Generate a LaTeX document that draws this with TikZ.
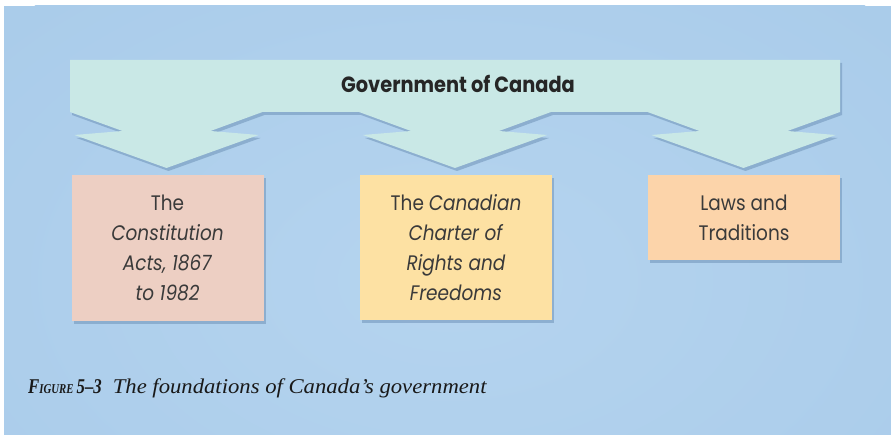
\documentclass[tikz,border=0pt]{standalone}
\usepackage{fontspec}
\usetikzlibrary{shadows}
\newfontfamily\geofont[FakeStretch=0.88]{Poppins}
\newfontfamily\capfont[FakeStretch=1.08]{Liberation Serif}
\newfontfamily\capnarrow[FakeStretch=0.8]{Liberation Serif}
\definecolor{skyblue}{HTML}{AACCEA}
\definecolor{skylight}{HTML}{B5D4EF}
\definecolor{bannerfill}{HTML}{C9E8E6}
\definecolor{pinkbox}{HTML}{EDCFC3}
\definecolor{yellowbox}{HTML}{FDE1A3}
\definecolor{peachbox}{HTML}{FCD4AA}
\definecolor{inkgrey}{HTML}{3A3A3A}
\definecolor{shadowblue}{HTML}{6F93B8}
\tikzset{
  softshadow/.style={drop shadow={shadow xshift=2pt, shadow yshift=-3pt, fill=shadowblue, opacity=0.55}},
  foundation/.style={rectangle, softshadow, minimum width=192pt, inner sep=0pt, align=center,
    text=inkgrey, font=\geofont\fontsize{21}{30}\selectfont},
}
\begin{document}
\begin{tikzpicture}[x=1pt,y=-1pt]
  % page and sky-blue backdrop
  \fill[white] (0,0) rectangle (891,435);
  \fill[skyblue] (4,6) rectangle (891,435);
  \begin{scope}
    \clip (4,6) rectangle (891,435);
    \shade[inner color=skylight, outer color=skyblue] (450,280) ellipse (600pt and 380pt);
  \end{scope}
  \useasboundingbox (0,0) rectangle (891,435);

  % banner with three downward arrowheads
  \def\ca{166.5}\def\cb{455}\def\cc{743.5}
  \filldraw[fill=bannerfill, draw=none, softshadow]
    (70,60) -- (840,60) -- (840,112)
    -- (\cc+44,131) -- (\cc+92,135) -- (\cc,168) -- (\cc-92,135) -- (\cc-44,131) -- (\cc-96,112)
    -- (\cb+96,112)
    -- (\cb+44,131) -- (\cb+92,135) -- (\cb,168) -- (\cb-92,135) -- (\cb-44,131) -- (\cb-96,112)
    -- (\ca+96,112)
    -- (\ca+44,131) -- (\ca+92,135) -- (\ca,168) -- (\ca-92,135) -- (\ca-44,131) -- (70,112)
    -- cycle;
  \node[text=black!85, font=\geofont\bfseries\fontsize{22}{26}\selectfont] (gov) at (458,84) {Government of Canada};

  % the three foundations
  \node[foundation, fill=pinkbox, minimum height=146pt] (constitution) at (167.5,248)
    {The\\\textit{Constitution}\\\textit{Acts, 1867}\\\textit{to 1982}};
  \node[foundation, fill=yellowbox, minimum height=145pt] (charter) at (456,247.5)
    {The \textit{Canadian}\\\textit{Charter of}\\\textit{Rights and}\\\textit{Freedoms}};
  \node[foundation, fill=peachbox, minimum height=85pt] (laws) at (744,217.5)
    {Laws and\\Traditions};

  % caption
  \node[anchor=base west, inner sep=0pt, text=black!90] (caption) at (28,393)
    {{\capnarrow\bfseries\itshape\fontsize{21}{26}\selectfont F{\fontsize{13.5}{16}\selectfont IGURE}\hspace{3pt}5–3}\hspace{11pt}{\capfont\itshape\fontsize{21}{26}\selectfont The foundations of Canada’s government}};
\end{tikzpicture}
\end{document}
